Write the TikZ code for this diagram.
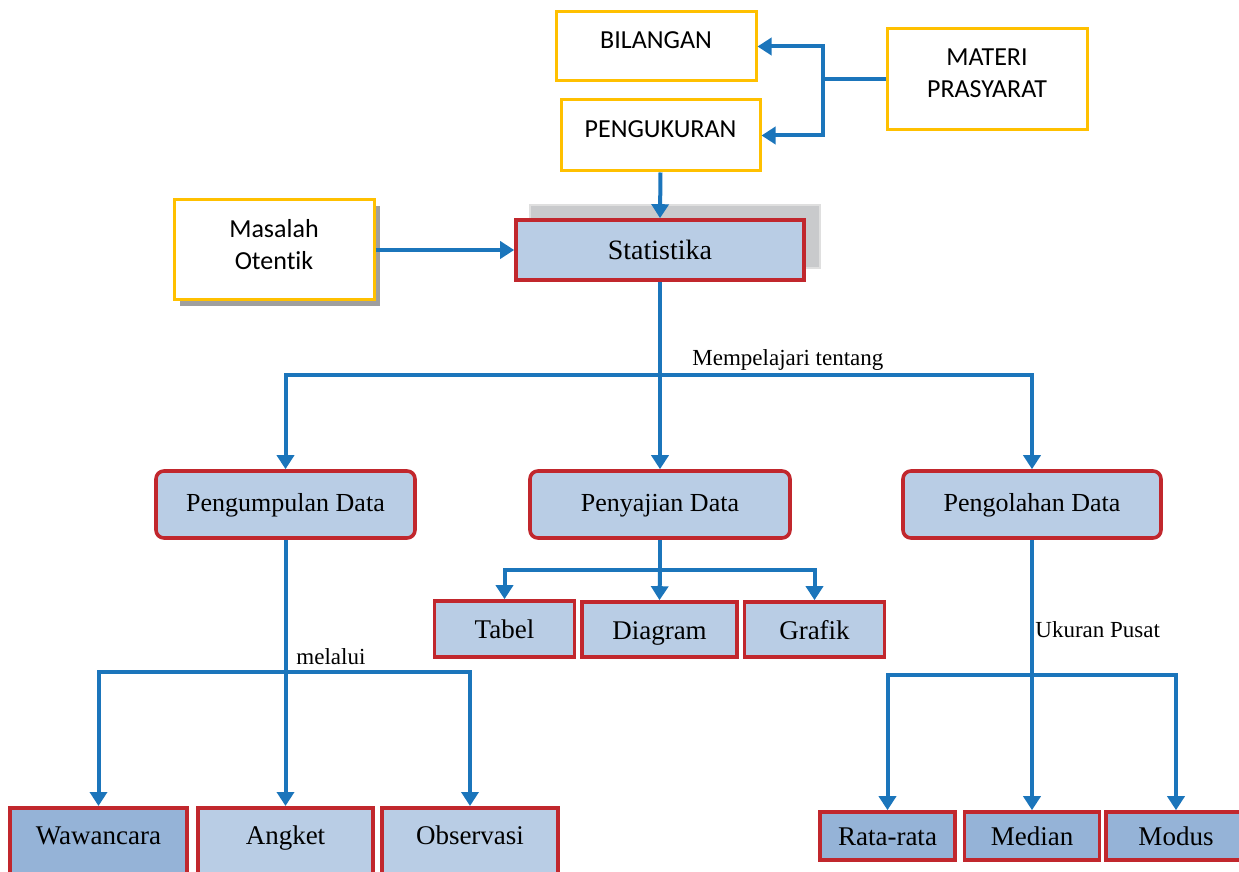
\documentclass[tikz,border=0pt]{standalone}
\usepackage{fontspec}
\setmainfont{Liberation Serif}
\newfontfamily\kalibri[Ligatures=NoCommon]{Carlito}
\usetikzlibrary{arrows.meta,positioning,shadows}
\usepackage{xcolor}
\definecolor{kuning}{HTML}{FFC000}
\definecolor{merah}{HTML}{C1272D}
\definecolor{biru}{HTML}{B9CDE5}
\definecolor{birutua}{HTML}{95B3D7}
\definecolor{garisbiru}{HTML}{1B75BB}
\definecolor{abu}{HTML}{C9CACC}
\tikzset{
  prasyarat/.style={draw=kuning,line width=1.5pt,fill=white,align=center,inner sep=0pt,text depth=6pt,font=\kalibri\fontsize{13}{16}\selectfont},
  pokok/.style={draw=merah,line width=1.8pt,fill=biru,align=center,inner sep=0pt,text height=12pt,text depth=2.5pt,font=\fontsize{14}{16}\selectfont},
  cabang/.style={pokok,rounded corners=4pt,text height=10pt,text depth=3pt,font=\fontsize{13}{15}\selectfont},
  daun/.style={pokok,font=\fontsize{13.5}{15}\selectfont},
  dasar/.style={daun,anchor=north,minimum height=35pt,text depth=10pt},
  panah/.style={-{Triangle[width=8.5pt,length=7pt]},line width=2pt,draw=garisbiru},
  garis/.style={line width=2pt,draw=garisbiru},
  ket/.style={inner sep=1pt,font=\fontsize{11.5}{13}\selectfont}
}

\begin{document}
\begin{tikzpicture}[x=0.5pt,y=-0.5pt]
    \useasboundingbox (0,0) rectangle (1239,872);
    \clip (0,0) rectangle (1239,872);
    % materi prasyarat
    \node[prasyarat,minimum width=100pt,minimum height=34.5pt] (bil) at (656,46.5) {BILANGAN};
    \node[prasyarat,minimum width=99.5pt,minimum height=35.5pt] (ukur) at (660.5,135.5) {PENGUKURAN};
    \node[prasyarat,minimum width=100pt,minimum height=50.5pt] (materi) at (987,79.5) {MATERI\\PRASYARAT};
    \node[prasyarat,minimum width=100pt,minimum height=50pt,
      drop shadow={shadow xshift=3pt,shadow yshift=-3pt,fill=gray!75,opacity=1}] (masalah) at (274,250) {Masalah\\Otentik};
    % statistika
    \node[draw=gray!25,line width=0.6pt,fill=abu,minimum width=145pt,minimum height=31.5pt] (statbayang) at (675,236.5) {};
    \node[pokok,minimum width=144pt,minimum height=30pt] (stat) at (660,250) {Statistika};
    % tingkat kedua
    \node[cabang,minimum width=129.5pt,minimum height=33.5pt] (kumpul) at (285.5,504.5) {Pengumpulan Data};
    \node[cabang,minimum width=130pt,minimum height=33.5pt] (saji) at (660,504.5) {Penyajian Data};
    \node[cabang,minimum width=129pt,minimum height=33.5pt] (olah) at (1032,504.5) {Pengolahan Data};
    % penyajian
    \node[daun,minimum width=70pt,minimum height=28pt] (tabel) at (504.5,629) {Tabel};
    \node[daun,minimum width=77.5pt,minimum height=27.5pt] (diagram) at (659.5,629.5) {Diagram};
    \node[daun,minimum width=70pt,minimum height=27.5pt] (grafik) at (814.5,629.5) {Grafik};
    % pengumpulan
    \node[dasar,fill=birutua,minimum width=88.5pt] (wawan) at (98.5,806) {Wawancara};
    \node[dasar,minimum width=87.5pt] (angket) at (285.5,806) {Angket};
    \node[dasar,minimum width=88pt] (obs) at (470,806) {Observasi};
    % pengolahan
    \node[daun,fill=birutua,minimum width=67.5pt,minimum height=24pt] (rata) at (887.5,836) {Rata-rata};
    \node[daun,fill=birutua,minimum width=67.5pt,minimum height=24pt] (median) at (1032,836) {Median};
    \node[daun,fill=birutua,minimum width=70pt,minimum height=24pt] (modus) at (1176,836) {Modus};
    % keterangan
    \node[ket,anchor=west] (tentang) at (690,360) {Mempelajari tentang};
    \node[ket,anchor=west] (melalui) at (294,657) {melalui};
    \node[ket,anchor=west] (ukpusat) at (1033,630) {Ukuran Pusat};
    % titik cabang
    \coordinate (j0) at (823,79.5);
    \coordinate (j1) at (660,375);
    \coordinate (j2) at (660,570);
    \coordinate (j3) at (285.5,672);
    \coordinate (j4) at (1032,675);
    % panah
    \draw[garis] (materi.west) -- (j0);
    \draw[panah] (j0) |- (bil.east);
    \draw[panah] (j0) |- (ukur.east);
    \draw[panah] (ukur.south) -- (stat.north);
    \draw[panah] (masalah.east) -- (stat.west);
    \draw[garis] (stat.south) -- (j1);
    \draw[panah] (j1) -| (kumpul.north);
    \draw[panah] (j1) -- (saji.north);
    \draw[panah] (j1) -| (olah.north);
    \draw[garis] (saji.south) -- (j2);
    \draw[panah] (j2) -| (tabel.north);
    \draw[panah] (j2) -- (diagram.north);
    \draw[panah] (j2) -| (grafik.north);
    \draw[garis] (kumpul.south) -- (j3);
    \draw[panah] (j3) -| (wawan.north);
    \draw[panah] (j3) -- (angket.north);
    \draw[panah] (j3) -| (obs.north);
    \draw[garis] (olah.south) -- (j4);
    \draw[panah] (j4) -| (rata.north);
    \draw[panah] (j4) -- (median.north);
    \draw[panah] (j4) -| (modus.north);
  \end{tikzpicture}
\end{document}
